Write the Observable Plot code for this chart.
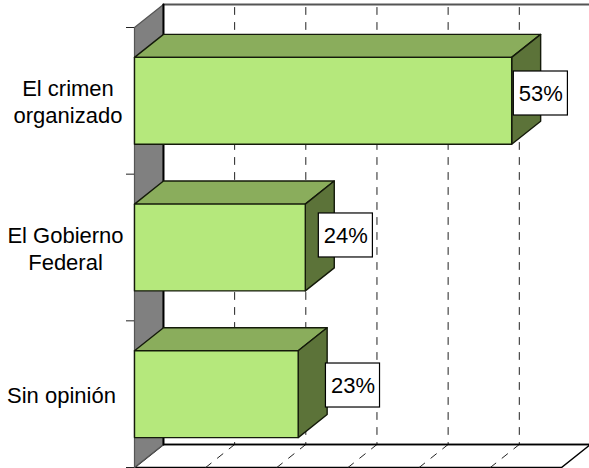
<!DOCTYPE html>
<html><head><meta charset="utf-8">
<script src="https://cdn.jsdelivr.net/npm/d3@7"></script>
<script src="https://cdn.jsdelivr.net/npm/@observablehq/plot@0.6"></script>
<style>html,body{margin:0;padding:0;background:#fff}svg{display:block;overflow:hidden}</style>
</head><body><div id="chart"></div>
<script>
const categories = ["El crimen\norganizado", "El Gobierno\nFederal", "Sin opinión"];
const values = [53, 24, 23];
const labels = ["53%", "24%", "23%"];
const labelCentersX = [57.1, 29.7, 30.7];
const labelCentersY = [0.45, 1.418, 2.441];
const categoryOffsets = [-66.5, -69, -73];
const gridValues = [10, 20, 30, 40, 50];
const axisMax = 60;
const slots = 3;

// oblique depth of the 3-D box, in data units
const DX = 4.07, DY = 0.157;
const BAR = 0.204;
const back = ([x, y]) => [x + DX, y - DY];

const poly = (pts) => pts.concat([pts[0]]).map(([x, y]) => ({x, y}));
const shape = (pts, fill, stroke, strokeWidth = 1.4) =>
  Plot.line(poly(pts), {x: "x", y: "y", fill, stroke, strokeWidth, curve: "linear"});

const wall = [[0, 0], back([0, 0]), back([0, slots]), [0, slots]];
const floor = [[0, slots], back([0, slots]), back([axisMax, slots]), [axisMax, slots]];

const gridRows = gridValues.flatMap(v => [
  {x: back([v, 0])[0], y: back([v, 0])[1], id: v},
  {x: back([v, slots])[0], y: back([v, slots])[1], id: v}
]);
const floorRows = gridValues.flatMap(v => [
  {x: back([v, slots])[0], y: back([v, slots])[1], id: v},
  {x: v, y: slots, id: v}
]);

const barMarks = values.flatMap((v, i) => {
  const t = i + BAR, b = i + 1 - BAR;
  return [
    shape([[0, t], back([0, t]), back([v, t]), [v, t]], "#8aad5c", "#141a0a"),
    shape([[v, t], back([v, t]), back([v, b]), [v, b]], "#5c7339", "#141a0a"),
    shape([[0, t], [v, t], [v, b], [0, b]], "#b5e87c", "#141a0a")
  ];
});

const rows = categories.map((c, i) => ({c, i, label: labels[i], cx: labelCentersX[i], cy: labelCentersY[i], off: categoryOffsets[i]}));
const textFont = "Liberation Sans, Arial, sans-serif";

const plot = Plot.plot({
  width: 589, height: 468,
  marginLeft: 134, marginRight: 28, marginTop: 27, marginBottom: 1,
  style: {background: "#fff", fontFamily: textFont},
  x: {domain: [0, axisMax], axis: null},
  y: {domain: [0, slots], reverse: true, axis: null},
  marks: [
    shape(floor, "#fff", "#000", 1.5),
    Plot.line(gridRows, {x: "x", y: "y", z: "id", stroke: "#222", strokeWidth: 1, strokeDasharray: "7,8", strokeDashoffset: 12}),
    Plot.line(floorRows, {x: "x", y: "y", z: "id", stroke: "#222", strokeWidth: 1, strokeDasharray: "7,8"}),
    Plot.line([back([0, 0]), back([axisMax, 0])].map(([x, y]) => ({x, y})), {x: "x", y: "y", stroke: "#555", strokeWidth: 2}),
    Plot.line([back([0, slots]), back([axisMax, slots])].map(([x, y]) => ({x, y})), {x: "x", y: "y", stroke: "#000", strokeWidth: 1.5}),
    shape(wall, "#808080", "#555", 1.2),
    Plot.line([back([0, 0]), back([0, slots])].map(([x, y]) => ({x, y})), {x: "x", y: "y", stroke: "#000", strokeWidth: 2}),
    Plot.axisY({ticks: d3.range(slots + 1), tickFormat: null, tickSize: 8, tickPadding: 0, stroke: "#222", label: null, text: null}),
    ...barMarks,
    ...rows.map(r => Plot.text([r], {x: 0, y: r.i + 0.5, text: "c", dx: r.off, textAnchor: "middle", fontSize: 22, lineHeight: 1.23, fill: "#000"})),
    Plot.rect(rows, {x1: r => r.cx - 3.8, x2: r => r.cx + 3.8, y1: r => r.cy - 0.15, y2: r => r.cy + 0.15, fill: "#fff", stroke: "#000", strokeWidth: 1.2}),
    Plot.text(rows, {x: "cx", y: "cy", text: "label", fontSize: 22, fill: "#000"})
  ]
});
document.getElementById("chart").append(plot);
</script></body></html>
